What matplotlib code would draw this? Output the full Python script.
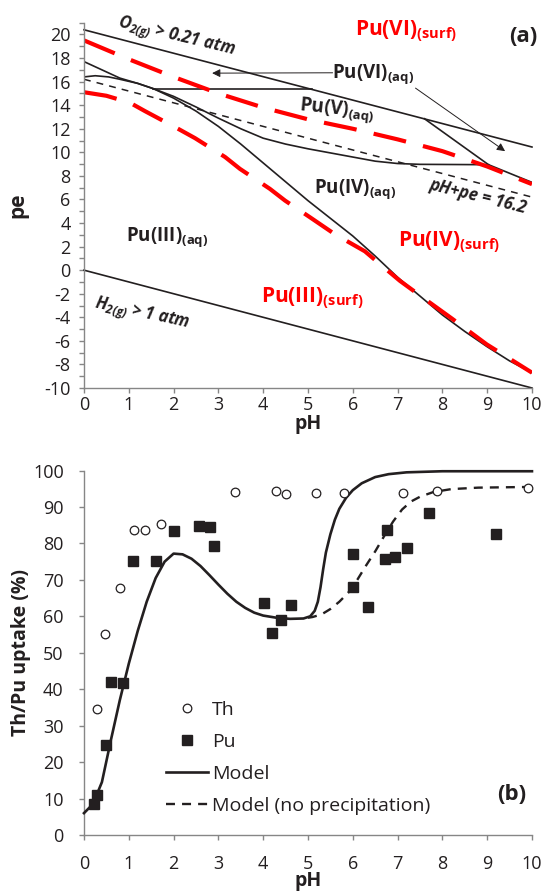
import numpy as np
import matplotlib
matplotlib.use("Agg")
import matplotlib.pyplot as plt

plt.rcParams["font.family"] = ["Open Sans", "DejaVu Sans"]
plt.rcParams["axes.unicode_minus"] = False
plt.rcParams["mathtext.default"] = "regular"

INK = "#231f20"
RED = "#ff0000"
AXIS = "#868686"

# ----- (a) pe-pH diagram -----
o2_ph = [0, 10]
o2_pe = [20.4, 10.45]
h2_ph = [0, 10]
h2_pe = [0, -10]
redox_ph = [0, 10]
redox_pe = [16.2, 6.2]

# Pu(VI)/Pu(V) boundary
vi_v_flat_ph = [1.55, 5.1]
vi_v_flat_pe = [15.4, 15.4]
vi_v_ph = [7.6, 9.03, 10.0]
vi_v_pe = [12.85, 8.95, 7.45]

# Pu(V)/Pu(IV) boundary
v_iv_ph = [0, 0.25, 0.55, 0.8, 1.2, 1.55, 2.0, 2.5, 3.0, 3.5, 4.0, 4.5, 5.0,
           5.5, 6.0, 6.5, 7.0, 7.5, 9.03]
v_iv_pe = [16.4, 16.5, 16.4, 16.2, 15.85, 15.4, 14.75, 13.85, 12.9, 12.0,
           11.2, 10.7, 10.3, 9.95, 9.6, 9.25, 9.05, 8.98, 8.95]

# Pu(IV)/Pu(III) boundary
iv_iii_ph = [0, 0.4, 0.8, 1.2, 1.55, 2.0, 2.5, 3.0, 3.5, 4.0, 4.5, 5.0, 5.5,
             6.0, 6.5, 7.0, 7.5, 8.0, 8.5, 9.0, 9.5, 10]
iv_iii_pe = [17.7, 17.0, 16.3, 15.85, 15.4, 14.6, 13.5, 12.2, 10.7, 9.1, 7.5,
             5.9, 4.4, 2.9, 1.2, -0.6, -2.2, -3.8, -5.2, -6.5, -7.7, -8.7]

# surface-species boundaries
surf_hi_ph = [0, 1.0, 2.0, 3.0, 4.0, 5.0, 6.0, 7.0, 8.0, 9.0, 10]
surf_hi_pe = [19.5, 17.9, 16.4, 15.0, 13.8, 12.8, 12.0, 11.1, 10.1, 8.8, 7.3]
surf_lo_ph = [0, 0.5, 1.03, 1.36, 2.1, 2.48, 3.15, 3.48, 4.15, 4.49, 5.04,
              5.6, 6.27, 6.58, 7.05, 7.59, 8.21, 8.99, 10]
surf_lo_pe = [15.1, 14.8, 14.2, 13.5, 12.0, 11.2, 9.6, 8.6, 6.9, 5.9, 4.5,
              3.05, 1.6, 0.6, -0.9, -2.4, -4.1, -6.3, -8.7]

# ----- (b) uptake -----
th_ph = [0.30, 0.47, 0.80, 1.12, 1.36, 1.71, 3.38, 4.28, 4.52, 5.17, 5.81,
         7.11, 7.87, 9.92]
th_up = [34.7, 55.1, 67.7, 83.7, 83.8, 85.2, 94.1, 94.5, 93.6, 93.9, 93.9,
         93.9, 94.3, 95.3]
pu_ph = [0.22, 0.28, 0.50, 0.60, 0.88, 1.10, 1.61, 2.02, 2.57, 2.81, 2.91,
         4.02, 4.20, 4.40, 4.61, 6.01, 6.01, 6.35, 6.72, 6.77, 6.94, 7.22,
         7.71, 9.20]
pu_up = [8.5, 11.0, 24.8, 42.0, 41.7, 75.3, 75.3, 83.3, 84.9, 84.4, 79.4,
         63.7, 55.3, 59.1, 63.0, 77.2, 68.0, 62.5, 75.8, 83.6, 76.3, 78.8,
         88.3, 82.5]
model_ph = [0, 0.2, 0.4, 0.6, 0.8, 1.0, 1.2, 1.4, 1.6, 1.8, 2.0, 2.2, 2.4,
            2.6, 2.8, 3.0, 3.2, 3.4, 3.6, 3.8, 4.0, 4.3, 4.6, 4.9, 5.05,
            5.15, 5.22, 5.28, 5.34, 5.4, 5.5, 5.6, 5.7, 5.85, 6.0, 6.2, 6.5,
            6.8, 7.2, 8.0, 10]
model_up = [6.0, 8.5, 14.5, 26.0, 37.0, 47.0, 56.0, 64.0, 70.5, 75.0, 77.2,
            77.0, 75.8, 73.8, 71.3, 68.7, 66.2, 64.0, 62.3, 61.0, 60.2, 59.6,
            59.3, 59.4, 60.0, 61.5, 64.0, 68.0, 73.0, 77.5, 82.5, 86.5, 89.5,
            92.5, 94.6, 96.5, 98.2, 99.0, 99.5, 99.8, 99.8]
noppt_ph = [5.0, 5.1, 5.3, 5.5, 5.7, 5.9, 6.1, 6.3, 6.5, 6.7, 6.9, 7.1, 7.3,
            7.5, 7.8, 8.2, 8.8, 10]
noppt_up = [59.6, 59.8, 60.5, 62.0, 64.0, 66.5, 70.0, 74.0, 77.8, 82.0, 86.0,
            89.3, 91.5, 92.8, 94.1, 94.9, 95.3, 95.5]


def style_axes(ax):
    for side in ("top", "right"):
        ax.spines[side].set_visible(False)
    for side in ("left", "bottom"):
        ax.spines[side].set_color(AXIS)
        ax.spines[side].set_linewidth(1.0)
    ax.tick_params(which="both", color=AXIS, labelcolor=INK, direction="out",
                   length=3.6, width=1.0, labelsize=13)


fig = plt.figure(figsize=(5.45, 8.94), dpi=100)

# ---------- panel (a) ----------
ax1 = fig.add_axes([0.1541, 0.566, 0.822, 0.4086])
style_axes(ax1)
ax1.set_xlim(0, 10)
ax1.set_ylim(-10, 21)
ax1.set_xticks(range(0, 11))
ax1.set_yticks(range(-10, 21, 2))
ax1.set_yticks(range(-10, 22), minor=True)
ax1.tick_params(axis="x", pad=2.5)
ax1.tick_params(axis="y", pad=6)

lw = 1.2
ax1.plot(o2_ph, o2_pe, color=INK, lw=lw, clip_on=False)
ax1.plot(h2_ph, h2_pe, color=INK, lw=lw, clip_on=False)
ax1.plot(vi_v_flat_ph, vi_v_flat_pe, color=INK, lw=lw)
ax1.plot(vi_v_ph, vi_v_pe, color=INK, lw=lw)
ax1.plot(v_iv_ph, v_iv_pe, color=INK, lw=lw)
ax1.plot(iv_iii_ph, iv_iii_pe, color=INK, lw=lw)
ax1.plot(redox_ph, redox_pe, color=INK, lw=1.1, dashes=(4.5, 4))
ax1.plot(surf_hi_ph, surf_hi_pe, color=RED, lw=3.0, dashes=(8, 4.2))
ax1.plot(surf_lo_ph, surf_lo_pe, color=RED, lw=3.0, dashes=(8, 4.2))

ax1.annotate("", xy=(2.86, 16.72), xytext=(5.55, 16.75),
             arrowprops=dict(arrowstyle="-|>", color=INK, lw=0.7,
                             mutation_scale=12, shrinkA=0, shrinkB=0))
ax1.annotate("", xy=(9.4, 10.1), xytext=(7.4, 15.45),
             arrowprops=dict(arrowstyle="-|>", color=INK, lw=0.7,
                             mutation_scale=12, shrinkA=0, shrinkB=0))

lab = dict(fontweight="bold", color=INK, ha="center", va="center")
ax1.text(2.05, 19.75, r"O$_{2(g)}$ > 0.21 atm", fontsize=12, style="italic",
         rotation=-13.5, **lab)
ax1.text(1.3, -3.75, r"H$_{2(g)}$ > 1 atm", fontsize=12, style="italic",
         rotation=-12, **lab)
ax1.text(8.8, 6.3, "pH+pe = 16.2", fontsize=12, style="italic",
         rotation=-14, **lab)
ax1.text(6.45, 16.6, r"Pu(VI)$_{(aq)}$", fontsize=13.5, **lab)
ax1.text(5.65, 13.6, r"Pu(V)$_{(aq)}$", fontsize=13.5, rotation=-6, **lab)
ax1.text(6.05, 6.9, r"Pu(IV)$_{(aq)}$", fontsize=13.5, **lab)
ax1.text(1.85, 2.8, r"Pu(III)$_{(aq)}$", fontsize=13.5, **lab)

red = dict(fontweight="bold", color=RED, ha="center", va="center",
           fontsize=15)
ax1.text(7.2, 20.3, r"Pu(VI)$_{(surf)}$", **red)
ax1.text(8.15, 2.4, r"Pu(IV)$_{(surf)}$", **red)
ax1.text(5.1, -2.4, r"Pu(III)$_{(surf)}$", **red)
ax1.text(9.8, 19.85, "(a)", fontsize=16, fontweight="bold", color=INK,
         ha="center", va="center")

ax1.set_xlabel("pH", fontsize=14, fontweight="bold", color=INK)
ax1.xaxis.set_label_coords(0.5, -0.07)
ax1.set_ylabel("pe", fontsize=15, fontweight="bold", color=INK)
ax1.yaxis.set_label_coords(-0.125, 0.5)

# ---------- panel (b) ----------
ax2 = fig.add_axes([0.1541, 0.066, 0.822, 0.4077])
style_axes(ax2)
ax2.set_xlim(0, 10)
ax2.set_ylim(0, 100)
ax2.set_xticks(range(0, 11))
ax2.set_yticks(range(0, 101, 10))
ax2.tick_params(axis="x", pad=10.5)
ax2.tick_params(axis="y", pad=11)

ax2.plot(th_ph, th_up, ls="none", marker="o", ms=6.2, mfc="white",
         mec=INK, mew=0.9, label="Th", clip_on=False, zorder=4)
ax2.plot(pu_ph, pu_up, ls="none", marker="s", ms=7, mfc=INK, mec=INK,
         label="Pu", clip_on=False, zorder=4)
ax2.plot(model_ph, model_up, color=INK, lw=1.9, label="Model",
         clip_on=False, zorder=3)
ax2.plot(noppt_ph, noppt_up, color=INK, lw=1.7, dashes=(3.8, 3.0),
         label="Model (no precipitation)", clip_on=False, zorder=3)

leg = ax2.legend(loc="upper left", bbox_to_anchor=(0.165, 0.39),
                 frameon=False, fontsize=14, handlelength=2.2,
                 handletextpad=0.2, labelspacing=0.72, borderaxespad=0)
for t in leg.get_texts():
    t.set_color(INK)

ax2.text(9.55, 11, "(b)", fontsize=16, fontweight="bold", color=INK,
         ha="center", va="center")

ax2.set_xlabel("pH", fontsize=14, fontweight="bold", color=INK)
ax2.xaxis.set_label_coords(0.5, -0.1)
ax2.set_ylabel("Th/Pu uptake (%)", fontsize=14, fontweight="bold",
               color=INK)
ax2.yaxis.set_label_coords(-0.118, 0.5)

fig.savefig("out.png", dpi=100)
